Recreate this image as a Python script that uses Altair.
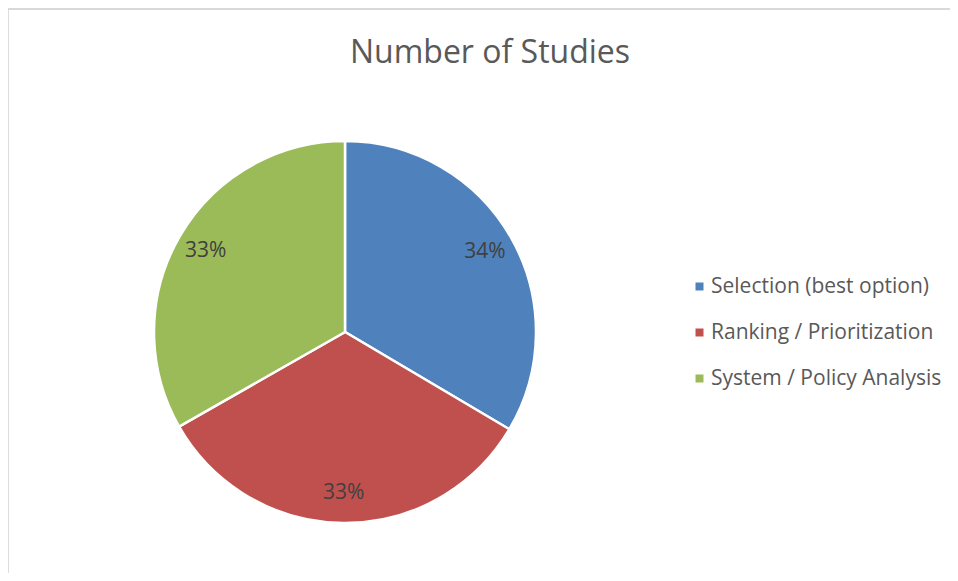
import altair as alt
import pandas as pd

categories = ["Selection (best option)", "Ranking / Prioritization", "System / Policy Analysis"]
values = [33.5, 33.25, 33.25]
labels = ["34%", "33%", "33%"]
colors = ["#4F81BD", "#C0504D", "#9BBB59"]
order = [0, 1, 2]

df = pd.DataFrame({"category": categories, "value": values, "label": labels, "order": order})

W, H = 942, 565
CX, CY, R = 337, 324, 191
FONT = "Open Sans"

base = alt.Chart(df).encode(
    theta=alt.Theta("value:Q", stack=True),
    order=alt.Order("order:Q"),
)

pie = base.mark_arc(outerRadius=R, stroke="white", strokeWidth=2.5).encode(
    x=alt.value(CX), y=alt.value(CY),
    color=alt.Color(
        "category:N",
        scale=alt.Scale(domain=categories, range=colors),
        legend=alt.Legend(
            title=None, orient="none", legendX=681, legendY=268,
            symbolType="square", symbolSize=64, symbolStrokeWidth=0,
            labelFont=FONT, labelFontSize=21, labelColor="#595959",
            rowPadding=24, labelOffset=1, labelLimit=400,
        ),
    ),
)

text = base.mark_text(radius=161, font=FONT, fontSize=21, color="#404040", baseline="middle").encode(
    x=alt.value(CX), y=alt.value(CY),
    text="label:N",
)

title_df = pd.DataFrame({"t": ["Number of Studies"]})
title = alt.Chart(title_df).mark_text(font=FONT, fontSize=32, color="#595959", baseline="middle").encode(
    x=alt.value(482), y=alt.value(45), text="t:N"
)

border = alt.Chart(title_df).mark_rule(color="#d9d9d9", strokeWidth=2).encode(
    x=alt.value(-2), x2=alt.value(W + 20), y=alt.value(1), y2=alt.value(1)
)
border2 = alt.Chart(title_df).mark_rule(color="#d9d9d9", strokeWidth=2).encode(
    x=alt.value(-2), y=alt.value(0), y2=alt.value(H + 20)
)

chart = alt.layer(border, border2, pie, text, title).properties(
    width=W, height=H, padding=0, autosize=alt.AutoSizeParams(type="none")
).configure_view(strokeWidth=0).configure(background="white")

chart.save("out.html", embed_options={"renderer": "svg", "actions": False})
